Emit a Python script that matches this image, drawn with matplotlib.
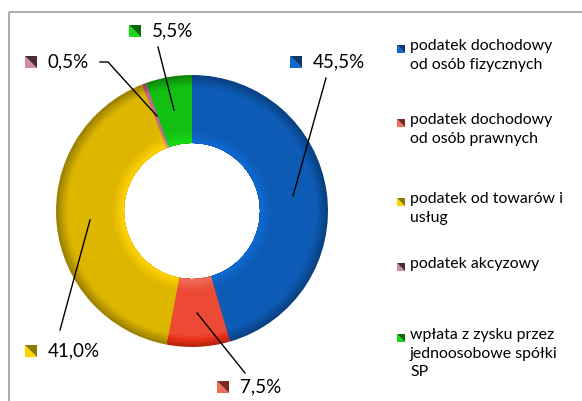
import matplotlib.pyplot as plt
from matplotlib.patches import Polygon, Rectangle
import colorsys
import matplotlib.colors as mc

plt.rcParams['font.family'] = ['Lato', 'DejaVu Sans']

# dane
categories = ['podatek dochodowy\nod osób fizycznych',
              'podatek dochodowy\nod osób prawnych',
              'podatek od towarów i\nusług',
              'podatek akcyzowy',
              'wpłata z zysku przez\njednoosobowe spółki\nSP']
values = [45.5, 7.5, 41.0, 0.5, 5.5]
labels = ['45,5%', '7,5%', '41,0%', '0,5%', '5,5%']

colors = ['#0D5BB5', '#EC4A34', '#DDB600', '#C46A8C', '#12C012']
dark = ['#0A3A70', '#7A2A1E', '#8A7A00', '#4A2A36', '#0A6A0A']

# polozenie (piksele)
cx, cy, R = 192, 211, 136
label_pos = [(313, 62), (240, 387), (48, 351), (48, 62), (152, 31)]
leaders = [[(326, 78), (293, 196)],
           [(245, 373), (197, 313)],
           [(60, 330), (90, 220)],
           [(100, 62), (108, 62), (157, 116)],
           [(158, 47), (174, 110)]]
legend_y = [49, 123, 202, 267, 338]


def shade(c, f):
    r, g, b = mc.to_rgb(c)
    h, l, s = colorsys.rgb_to_hls(r, g, b)
    l = max(0, min(1, l * f))
    return colorsys.hls_to_rgb(h, l, s)


fig = plt.figure(figsize=(5.82, 4.01), dpi=100)
ax = fig.add_axes([0, 0, 1, 1])

# ramka wykresu
ax.add_patch(Rectangle((9, 12), 700, 500, fill=False, edgecolor='#A6A6A6', lw=1.3))

# pierscien z cieniowaniem - od zewnatrz do srodka, kazda warstwa przykrywa poprzednia
n = 24
for k in range(n):
    t = 1 - k / n               # 1 = krawedz zewnetrzna, ~0 = wewnetrzna
    if t > 0.85:
        f = 0.72 + (1 - t) / 0.15 * 0.28
    elif t > 0.2:
        f = 1.0
    else:
        f = 1.0 + (0.2 - t) / 0.2 * 0.18
    rad = R * (0.5 + 0.5 * t)
    ax.pie(values, colors=[shade(c, f) for c in colors], radius=rad,
           center=(cx, cy), startangle=-90, counterclock=True,
           wedgeprops=dict(width=rad - R * 0.5, linewidth=0), frame=True)

ax.set_xlim(0, 582)
ax.set_ylim(401, 0)
ax.set_aspect('auto')
ax.axis('off')


def marker(x, y, c, d, s=12):
    ax.add_patch(Polygon([(x, y + s), (x, y), (x + s, y + s)], closed=True,
                         facecolor=shade(c, 1.15), edgecolor='none'))
    ax.add_patch(Polygon([(x, y), (x + s, y), (x + s, y + s)], closed=True,
                         facecolor=d, edgecolor='none'))


for i, lab in enumerate(labels):
    tx, ty = label_pos[i]
    marker(tx - 23, ty - 6, colors[i], dark[i])
    ax.text(tx, ty, lab, fontsize=13.5, va='center', ha='left', color='black')
    xs = [p[0] for p in leaders[i]]
    ys = [p[1] for p in leaders[i]]
    ax.plot(xs, ys, color='black', lw=1)

for i, cat in enumerate(categories):
    y = legend_y[i]
    marker(397, y - 4, colors[i], dark[i], s=8)
    ax.text(410, y - 10, cat, fontsize=11.4, va='top', ha='left',
            linespacing=1.42, color='black')

fig.savefig('out.png', dpi=100)
